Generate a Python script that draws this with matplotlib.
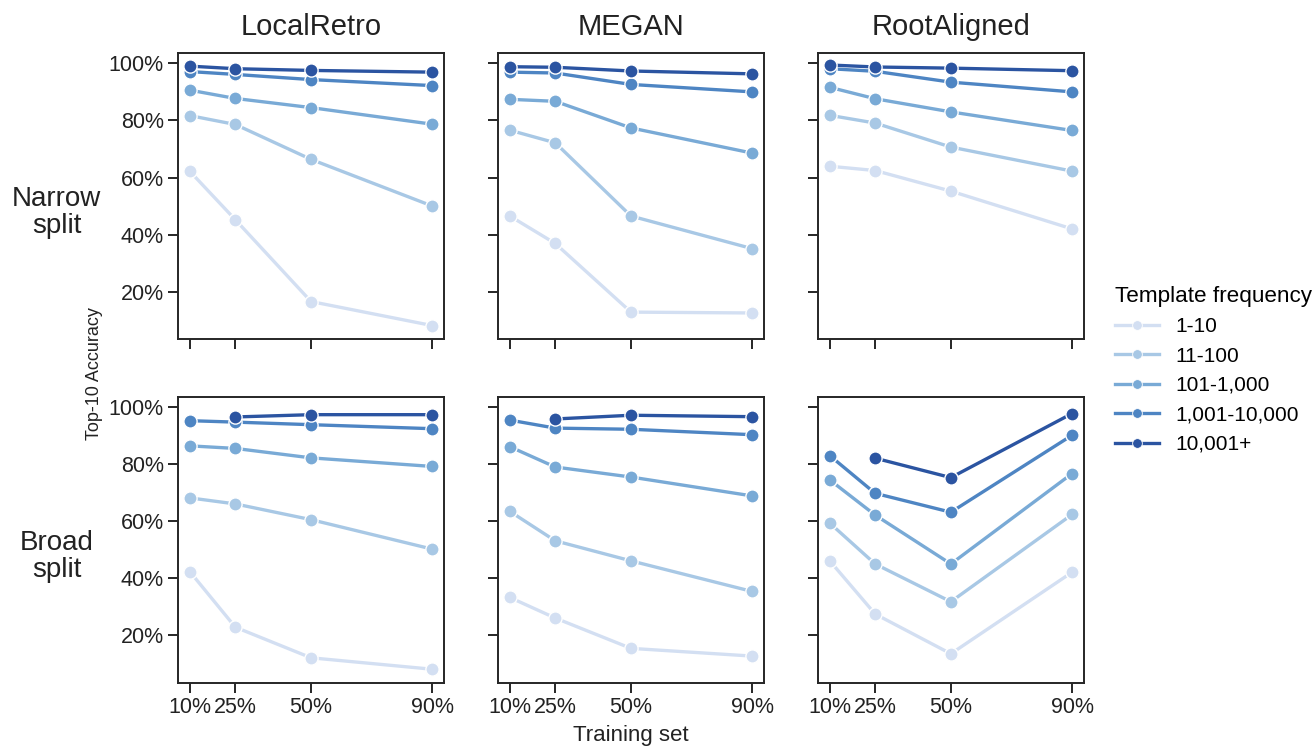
import numpy as np
import matplotlib
matplotlib.use("Agg")
import matplotlib.pyplot as plt
import matplotlib.ticker as ticker

plt.rcParams['font.family'] = ['Liberation Sans', 'DejaVu Sans']

# training set fraction (%)
train_pct = [10, 25, 50, 90]
models = ["LocalRetro", "MEGAN", "RootAligned"]
splits = ["Narrow\nsplit", "Broad\nsplit"]
freq_bins = ["1-10", "11-100", "101-1,000", "1,001-10,000", "10,001+"]
colors = ["#d3dff2", "#a8c8e5", "#79aad6", "#4e85c3", "#2b54a1"]

nan = np.nan
# rows: template frequency bins (1-10 ... 10,001+), columns: train_pct
narrow_localretro = [[62.2, 45.3, 16.7, 8.3],
                     [81.7, 78.6, 66.4, 50.1],
                     [90.6, 87.7, 84.5, 78.7],
                     [97.1, 96.1, 94.3, 92.2],
                     [99.0, 98.1, 97.5, 96.9]]
narrow_megan = [[46.6, 37.0, 13.0, 12.7],
                [76.6, 72.2, 46.6, 35.2],
                [87.4, 86.7, 77.4, 68.6],
                [96.9, 96.6, 92.6, 90.0],
                [98.8, 98.6, 97.3, 96.3]]
narrow_rootaligned = [[64.0, 62.5, 55.3, 42.1],
                      [81.8, 79.1, 70.7, 62.3],
                      [91.6, 87.6, 83.0, 76.5],
                      [98.1, 97.2, 93.4, 90.0],
                      [99.4, 98.7, 98.3, 97.4]]
broad_localretro = [[42.3, 22.9, 12.2, 8.2],
                    [68.1, 66.0, 60.5, 50.2],
                    [86.3, 85.4, 82.1, 79.1],
                    [95.1, 94.6, 93.7, 92.3],
                    [nan, 96.4, 97.2, 97.2]]
broad_megan = [[33.3, 26.1, 15.5, 12.8],
               [63.4, 53.1, 46.1, 35.4],
               [86.0, 78.9, 75.4, 68.8],
               [95.3, 92.5, 92.1, 90.2],
               [nan, 95.7, 97.0, 96.5]]
broad_rootaligned = [[46.1, 27.5, 13.6, 42.1],
                     [59.3, 45.0, 31.8, 62.3],
                     [74.4, 62.1, 45.0, 76.6],
                     [82.9, 69.7, 63.1, 90.0],
                     [nan, 82.0, 75.2, 97.6]]

panels = [[narrow_localretro, narrow_megan, narrow_rootaligned],
          [broad_localretro, broad_megan, broad_rootaligned]]

fig = plt.figure(figsize=(13.16, 7.47), dpi=100)

lefts = [0.1351, 0.3782, 0.6213]
bottoms = [0.5458, 0.0861]
w, h = 0.2025, 0.3829

spine_col = "#262626"
txt_col = "#222222"
pct_fmt = ticker.FuncFormatter(lambda v, _: '{:.0f}%'.format(v))

for r in range(2):
    for c in range(3):
        ax = fig.add_axes([lefts[c], bottoms[r], w, h])
        for k, series in enumerate(panels[r][c]):
            ax.plot(train_pct, series, color=colors[k], lw=2.4, marker="o",
                    markersize=9.5, markeredgecolor="white", markeredgewidth=1.0)
        ax.set_xlim(6, 94)
        ax.set_ylim(3.5, 103.5)
        ax.set_xticks(train_pct)
        ax.set_yticks([20, 40, 60, 80, 100])
        ax.yaxis.set_major_formatter(pct_fmt)
        ax.xaxis.set_major_formatter(pct_fmt)
        ax.tick_params(direction="out", length=7, width=1.4, colors=spine_col,
                       labelsize=15.5, labelcolor=txt_col, pad=3)
        for s in ax.spines.values():
            s.set_color(spine_col)
            s.set_linewidth(1.4)
        if r == 0:
            ax.tick_params(labelbottom=False)
            ax.set_title(models[c], fontsize=21, pad=13, color=txt_col)
        if c > 0:
            ax.tick_params(labelleft=False)

# legend with small markers
leg_handles = [plt.Line2D([], [], color=colors[k], lw=2.4, marker="o", markersize=7,
                          markeredgecolor="white", markeredgewidth=0.6)
               for k in range(5)]
fig.legend(leg_handles, freq_bins, loc="center left", bbox_to_anchor=(0.836, 0.505),
           frameon=False, fontsize=15, title="Template frequency", title_fontsize=16.2,
           handlelength=2.1, handletextpad=0.8, labelspacing=0.5, alignment="left",
           borderpad=0.2)

for r in range(2):
    y = bottoms[r] + h / 2 - 0.022
    fig.text(0.043, y, splits[r], ha="center", va="center", fontsize=20,
             color=txt_col, linespacing=1.05)

fig.text(0.072, 0.5, "Top-10 Accuracy", rotation=90, ha="center", va="center",
         fontsize=13, color=txt_col)
fig.text(lefts[1] + w / 2, 0.015, "Training set", ha="center", va="center",
         fontsize=16, color=txt_col)

fig.savefig("out.png", dpi=100)
